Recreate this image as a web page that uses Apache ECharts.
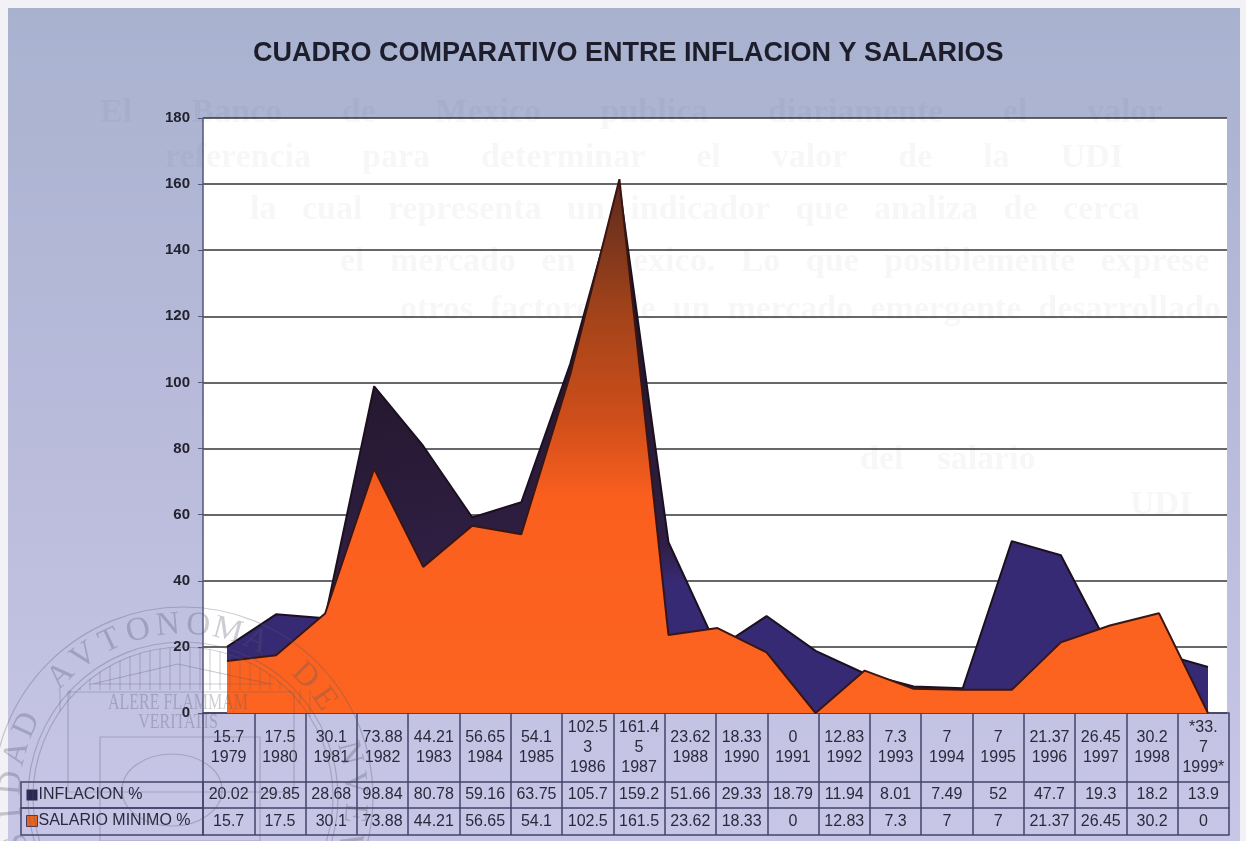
<!DOCTYPE html>
<html style="height: 100%">

<head>
	<meta charset="utf-8">
	<script type="text/javascript" src="https://cdn.jsdelivr.net/npm/echarts@6/dist/echarts.min.js"></script>
</head>

<body style="height: 100%; margin: 0; background: #f2f2f6">
	<div id="container" style="width: 1246px; height: 841px; filter: blur(0.45px)"></div>
	<script type="text/javascript">
		// the plot has a point for 1989, the table below it has no column for that year
		let plotYears = ['1979', '1980', '1981', '1982', '1983', '1984', '1985', '1986', '1987', '1988', '1989', '1990', '1991', '1992', '1993', '1994', '1995', '1996', '1997', '1998', '1999'];
		let plotInflacion = [20.02, 29.85, 28.68, 98.84, 80.78, 59.16, 63.75, 105.7, 159.2, 51.66, 19.5, 29.33, 18.79, 11.94, 8.01, 7.49, 52, 47.7, 19.3, 18.2, 13.9];
		let plotSalario = [15.7, 17.5, 30.1, 73.88, 44.21, 56.65, 54.1, 102.5, 161.5, 23.62, 25.7, 18.33, 0, 12.83, 7.3, 7, 7, 21.37, 26.45, 30.2, 0];

		// table rows, as printed
		let tableHead = ['15.7\n1979', '17.5\n1980', '30.1\n1981', '73.88\n1982', '44.21\n1983', '56.65\n1984', '54.1\n1985', '102.5\n3\n1986', '161.4\n5\n1987', '23.62\n1988', '18.33\n1990', '0\n1991', '12.83\n1992', '7.3\n1993', '7\n1994', '7\n1995', '21.37\n1996', '26.45\n1997', '30.2\n1998', '*33.\n7\n1999*'];
		let tableInflacion = ['20.02', '29.85', '28.68', '98.84', '80.78', '59.16', '63.75', '105.7', '159.2', '51.66', '29.33', '18.79', '11.94', '8.01', '7.49', '52', '47.7', '19.3', '18.2', '13.9'];
		let tableSalario = ['15.7', '17.5', '30.1', '73.88', '44.21', '56.65', '54.1', '102.5', '161.5', '23.62', '18.33', '0', '12.83', '7.3', '7', '7', '21.37', '26.45', '30.2', '0'];

		let yTicks = { min: 0, max: 180, interval: 20 };
		let sealText = 'VNIVERSIDAD AVTONOMA DE NVEVO LEON';
		// text of the next page showing through the scan: words, x, y, spaces between words
		let ghostLines = [
			['El Banco de Mexico publica diariamente el valor', 100, 96, 7],
			['referencia para determinar el valor de la UDI', 165, 141, 6],
			['la cual representa un indicador que analiza de cerca', 250, 193, 3],
			['el mercado en Mexico. Lo que posiblemente exprese', 340, 245, 3],
			['otros factores de un mercado emergente desarrollado', 400, 293, 2],
			['del salario', 860, 443, 4],
			['UDI', 1130, 488, 1]
		];

		let dom = document.getElementById('container');
		let myChart = echarts.init(dom);
		let fontName = '"Liberation Sans", Arial, sans-serif';
		let tableLine = '#44436a';

		// table axes sit under the plot on a second grid, pushed down by offset
		function tableAxis(data, offset, rowHeight, margin, lineHeight) {
			return {
				type: 'category',
				gridIndex: 1,
				position: 'bottom',
				offset: offset,
				data: data,
				axisLine: { show: true, lineStyle: { color: tableLine, width: 1.5 } },
				axisTick: { show: rowHeight > 0, length: rowHeight, lineStyle: { color: tableLine, width: 1.5 } },
				axisLabel: {
					show: rowHeight > 0,
					interval: 0,
					margin: margin,
					verticalAlign: 'middle',
					lineHeight: lineHeight,
					fontFamily: fontName,
					fontSize: 16,
					color: '#2a2a3c'
				}
			};
		}

		function sealGraphics() {
			let cx = 183, cy = 797;
			let items = [];
			let stroke = { fill: 'none', stroke: '#55556a', lineWidth: 1.2 };
			[190, 155, 150].forEach(function (r) {
				items.push({ type: 'circle', silent: true, z: 50, shape: { cx: cx, cy: cy, r: r }, style: stroke });
			});
			// letters around the ring, starting low on the left
			let count = sealText.length;
			for (let i = 0; i < count; i++) {
				let angle = -Math.PI * 0.92 + (i / (count - 1)) * Math.PI * 1.84;
				items.push({
					type: 'text',
					silent: true,
					z: 50,
					x: cx + 172 * Math.sin(angle),
					y: cy - 172 * Math.cos(angle),
					rotation: -angle,
					style: { text: sealText[i], font: '33px "Liberation Serif", serif', fill: '#55556a', textAlign: 'center', textVerticalAlign: 'middle' }
				});
			}
			// temple front
			for (let x = 60; x <= 310; x += 10) {
				let half = Math.sqrt(150 * 150 - (x - cx) * (x - cx));
				items.push({ type: 'line', silent: true, z: 50, shape: { x1: x, y1: cy - half, x2: x, y2: 690 }, style: { stroke: '#55556a', lineWidth: 1 } });
			}
			items.push({ type: 'polygon', silent: true, z: 50, shape: { points: [[92, 684], [178, 664], [270, 684]] }, style: stroke });
			items.push({ type: 'rect', silent: true, z: 50, shape: { x: 68, y: 692, width: 226, height: 100 }, style: stroke });
			items.push({ type: 'rect', silent: true, z: 50, shape: { x: 100, y: 737, width: 160, height: 104 }, style: stroke });
			items.push({ type: 'text', silent: true, z: 50, x: 178, y: 703, scaleY: 1.5, style: { text: 'ALERE FLAMMAM', font: '16px "Liberation Serif", serif', fill: '#55556a', textAlign: 'center', textVerticalAlign: 'middle' } });
			items.push({ type: 'text', silent: true, z: 50, x: 178, y: 723, scaleY: 1.3, style: { text: 'VERITATIS', font: '16px "Liberation Serif", serif', fill: '#55556a', textAlign: 'center', textVerticalAlign: 'middle' } });
			items.push({ type: 'ellipse', silent: true, z: 50, shape: { cx: 172, cy: 790, rx: 50, ry: 36 }, style: stroke });
			return { type: 'group', silent: true, z: 50, children: items.map(function (it) { it.style = Object.assign({}, it.style, { opacity: 0.3 }); return it; }) };
		}

		let graphics = [
			// scanned page background
			{
				type: 'rect',
				z: -10,
				silent: true,
				shape: { x: 8, y: 8, width: 1232, height: 833 },
				style: {
					fill: new echarts.graphic.LinearGradient(0, 0, 0, 1, [
						{ offset: 0, color: '#a8b2cf' },
						{ offset: 0.5, color: '#b9bbdb' },
						{ offset: 1, color: '#c8c6e6' }
					])
				}
			},
			// left part of the two data rows
			{ type: 'rect', z: 3, silent: true, shape: { x: 21, y: 782, width: 182, height: 26 }, style: { fill: 'none', stroke: tableLine, lineWidth: 1.5 } },
			{ type: 'rect', z: 3, silent: true, shape: { x: 21, y: 808, width: 182, height: 27 }, style: { fill: 'none', stroke: tableLine, lineWidth: 1.5 } },
			sealGraphics()
		];
		ghostLines.forEach(function (l) {
			graphics.push({
				type: 'text',
				z: 1,
				silent: true,
				x: l[1],
				y: l[2],
				style: { text: l[0].replace(/ /g, ' '.repeat(l[3])), font: 'bold 34px "Liberation Serif", serif', fill: 'rgba(60,60,80,0.04)' }
			});
		});

		let option = {
			animation: false,
			backgroundColor: 'transparent',
			textStyle: { fontFamily: fontName },
			title: {
				text: 'CUADRO COMPARATIVO ENTRE INFLACION Y SALARIOS',
				left: 248,
				top: 35,
				textStyle: { fontFamily: fontName, fontSize: 27, fontWeight: 'bold', color: '#1d1d2b' }
			},
			legend: {
				left: 26,
				top: 787,
				orient: 'vertical',
				selectedMode: false,
				padding: 0,
				itemGap: 10,
				itemWidth: 11,
				itemHeight: 11,
				icon: 'rect',
				textStyle: { fontFamily: fontName, fontSize: 16, color: '#2a2a3c', padding: [0, 0, 0, -4] },
				data: [
					{ name: 'INFLACION %', itemStyle: { color: '#2b2750', borderWidth: 0 } },
					{ name: 'SALARIO MINIMO %', itemStyle: { color: '#e8641e', borderColor: '#4a3a55', borderWidth: 1 } }
				]
			},
			grid: [
				{ left: 203, top: 118, width: 1024, height: 595, show: true, backgroundColor: '#ffffff', borderWidth: 0 },
				{ left: 203, top: 118, width: 1026, height: 595, show: false },
				// areas start and stop inside the white plot, so they get their own grid
				{ left: 227, top: 118, width: 981, height: 595, show: false }
			],
			xAxis: [
				{
					type: 'category',
					gridIndex: 0,
					data: plotYears,
					axisLine: { show: false },
					axisTick: { show: false },
					axisLabel: { show: false }
				},
				tableAxis(tableHead, 0, 69, 34.5, 20),
				tableAxis(tableInflacion, 69, 26, 13, 14),
				tableAxis(tableSalario, 95, 27, 13.5, 14),
				tableAxis(tableSalario, 122, 0, 0, 14),
				{ type: 'category', gridIndex: 2, show: false, boundaryGap: false, data: plotYears }
			],
			yAxis: [
				{
					type: 'value',
					gridIndex: 0,
					min: yTicks.min,
					max: yTicks.max,
					interval: yTicks.interval,
					axisLine: { show: true, lineStyle: { color: '#55557a', width: 1.5 } },
					axisTick: { show: true, length: 5, lineStyle: { color: '#55557a' } },
					axisLabel: { margin: 13, fontFamily: fontName, fontSize: 15, fontWeight: 'bold', color: '#22222e' },
					splitLine: { show: true, lineStyle: { color: '#33333a', width: 1.5 } }
				},
				{ type: 'value', gridIndex: 1, show: false, min: yTicks.min, max: yTicks.max },
				{ type: 'value', gridIndex: 2, show: false, min: yTicks.min, max: yTicks.max }
			],
			series: [
				{
					name: 'INFLACION %',
					type: 'line',
					xAxisIndex: 5,
					yAxisIndex: 2,
					symbol: 'none',
					z: 2,
					lineStyle: { color: '#1c1020', width: 2 },
					itemStyle: { color: '#2b2750' },
					areaStyle: {
						opacity: 1,
						// dark in the left hump and the main peak, indigo low on the left and all the right
						color: new echarts.graphic.LinearGradient(663, 162, 709, 660, [
							{ offset: 0, color: '#1b1018' },
							{ offset: 0.76, color: '#2f1f44' },
							{ offset: 0.84, color: '#372a75' },
							{ offset: 1, color: '#372a75' }
						], true)
					},
					data: plotInflacion
				},
				{
					name: 'SALARIO MINIMO %',
					type: 'line',
					xAxisIndex: 5,
					yAxisIndex: 2,
					symbol: 'none',
					z: 3,
					lineStyle: { color: '#3a1512', width: 2 },
					itemStyle: { color: '#e8641e' },
					areaStyle: {
						opacity: 1,
						color: new echarts.graphic.LinearGradient(0, 0, 0, 1, [
							{ offset: 0, color: '#5c2a1e' },
							{ offset: 0.25, color: '#a2431a' },
							{ offset: 0.45, color: '#cf4e1a' },
							{ offset: 0.6, color: '#fb5f1e' },
							{ offset: 1, color: '#fd6420' }
						])
					},
					data: plotSalario
				}
			],
			graphic: graphics
		};
		myChart.setOption(option);
	</script>
</body>

</html>
